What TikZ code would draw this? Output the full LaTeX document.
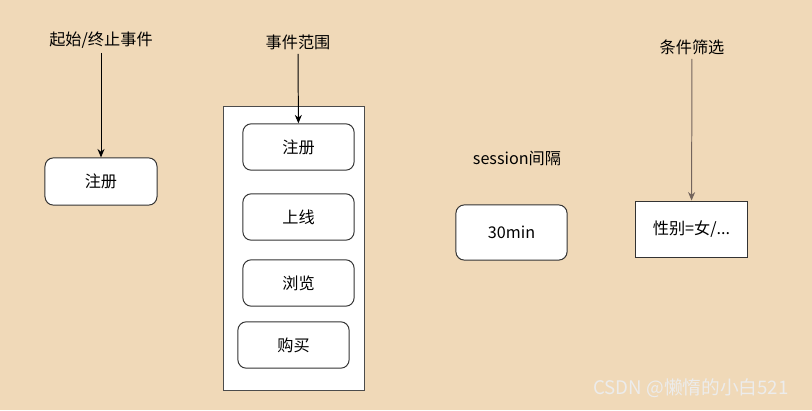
\documentclass[tikz,border=0pt]{standalone}
\usepackage{fontspec}
\setmainfont{Noto Sans CJK SC}
\usetikzlibrary{arrows.meta}
\definecolor{bgpeach}{RGB}{240,217,184}
\definecolor{arrowgray}{RGB}{115,100,92}

\begin{document}
\begin{tikzpicture}[x=0.025cm,y=-0.025cm,
    lbl/.style={font=\fontsize{11.5}{14}\selectfont,inner sep=3pt},
    evbox/.style={draw=black!80,fill=white,line width=0.7pt,rounded corners=6pt,
      minimum width=2.78cm,minimum height=1.16cm,font=\fontsize{11.5}{14}\selectfont},
    arr/.style={line width=0.7pt,-{Stealth[length=6pt,width=5pt]}}]
          \fill[bgpeach] (0,0) rectangle (812,410);
          % start / end event
          \node[lbl] (startlbl) at (101,40) {起始/终止事件};
          \node[evbox,minimum width=2.8cm,minimum height=1.18cm] (startbox) at (101,181.5) {注册};
          \draw[arr] (startlbl) -- (startbox);
          % event range
          \node[lbl] (rangelbl) at (298,42) {事件范围};
          \node[draw=black!70,fill=white,line width=0.7pt,minimum width=3.5cm,minimum height=7.12cm] (range) at (294,248.5) {};
          \node[evbox] (reg) at (298.5,147) {注册};
          \node[evbox] (online) at (298.5,217) {上线};
          \node[evbox] (browse) at (298.5,283) {浏览};
          \node[evbox] (buy) at (293.5,345) {购买};
          \draw[arr] (rangelbl) -- (reg);
          % session gap
          \node[lbl] (gaplbl) at (517,158) {session间隔};
          \node[evbox,minimum height=1.38cm] (gapbox) at (511.5,232.5) {30min};
          % condition filter
          \node[lbl] (filterlbl) at (692,47) {条件筛选};
          \node[evbox,rounded corners=0pt,minimum height=1.4cm] (filterbox) at (691.5,229) {性别=女/...};
          \draw[arr,arrowgray] (filterlbl) -- (filterbox);
          %\draw[arr] (gaplbl) -- (gapbox);
          \node[font=\fontsize{13.3}{15}\selectfont,text=white!85!gray] (mark) at (691,388) {CSDN @懒惰的小白521};
\end{tikzpicture}
\end{document}
